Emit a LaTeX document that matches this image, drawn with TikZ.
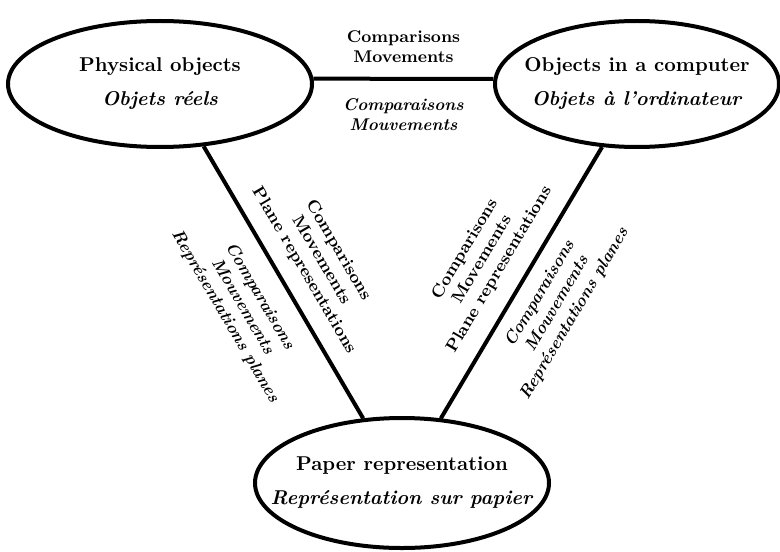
\documentclass[tikz,border=0pt]{standalone}
\usetikzlibrary{shapes.geometric}
\begin{document}
\begin{tikzpicture}[x=0.5pt,y=-0.5pt]
    \tikzset{
        obj/.style={ellipse, draw, line width=2pt, minimum width=152pt, minimum height=63pt},
        objtext/.style={align=center, font=\bfseries},
        lbl/.style={align=center, inner sep=1pt, font=\bfseries\fontsize{8.5}{10}\selectfont},
        link/.style={line width=2pt},}
    \useasboundingbox (0,0) rectangle (780,551);
    % the three places
    \node[obj] (phys) at (160,84) {};
    \node[objtext] (phys-txt) at (phys) {Physical objects\\[5pt] \textit{Objets réels}};
    \node[obj, minimum width=142pt] (comp) at (637,84) {};
    \node[objtext] (comp-txt) at (comp) {Objects in a computer\\[5pt] \textit{Objets à l'ordinateur}};
    \node[obj, minimum width=147pt, minimum height=65pt] (paper) at (402,483) {};
    \node[objtext] (paper-txt) at (paper) {Paper representation\\[5pt] \textit{Représentation sur papier}};
    % the links
    \draw[link] (phys.2) -- node[lbl, above=6pt] {Comparisons\\Movements}
        node[lbl, below=8pt] {\textit{Comparaisons}\\\textit{Mouvements}} (comp.178);
    \draw[link] (phys.-55) -- node[lbl, sloped, above=6pt] {Comparisons\\Movements\\Plane representations}
        node[lbl, sloped, below=8pt] {\textit{Comparaisons}\\\textit{Mouvements}\\\textit{Représentations planes}} (paper.121);
    \draw[link] (paper.59) -- node[lbl, sloped, above=7pt] {Comparisons\\Movements\\Plane representations}
        node[lbl, sloped, below=5pt] {\textit{Comparaisons}\\\textit{Mouvements}\\\textit{Représentations planes}} (comp.241);
\end{tikzpicture}
\end{document}
